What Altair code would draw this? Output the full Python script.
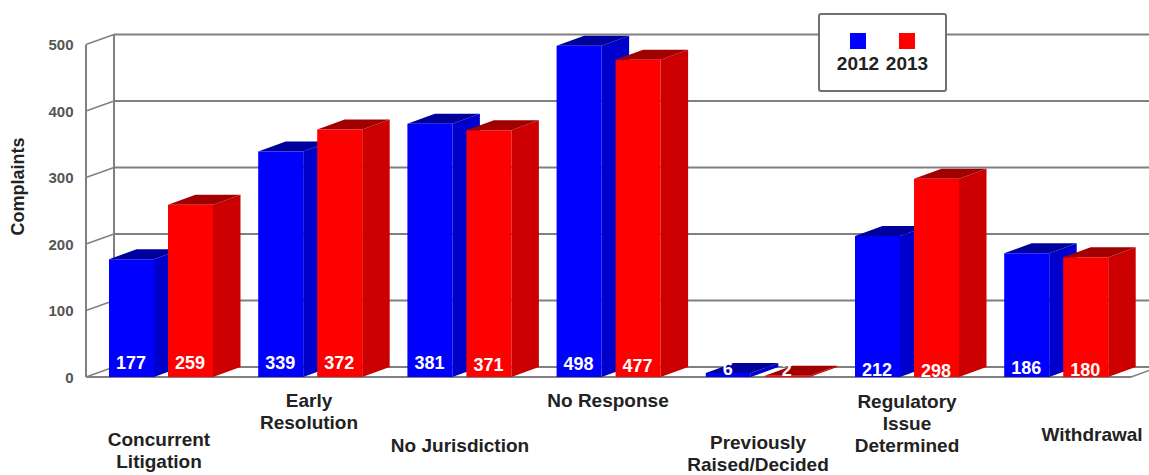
import altair as alt
import pandas as pd

# Complaint counts per closure reason
categories = ["Concurrent Litigation", "Early Resolution", "No Jurisdiction", "No Response",
              "Previously Raised/Decided", "Regulatory Issue Determined", "Withdrawal"]
values_2012 = [177, 339, 381, 498, 6, 212, 186]
values_2013 = [259, 372, 371, 477, 2, 298, 180]
y_ticks = [0, 100, 200, 300, 400, 500]

# Category label lines, kept apart from layout
label_lines = [["Concurrent", "Litigation"], ["Early", "Resolution"], ["No Jurisdiction"], ["No Response"],
               ["Previously", "Raised/Decided"], ["Regulatory", "Issue", "Determined"], ["Withdrawal"]]

# Layout, in pixels of the drawing
LEFT = 86
W, H = 1149, 475
SLOT = 149.2
BAR_W = 45
RED_SHIFT = 59
WALL_X = 28
DEPTH_X = 27.5
DEPTH_Y = 10
Y0 = 377
PX_PER_UNIT = 0.665
first_bar = 109 - LEFT
label_top = [440, 401, 446, 401, 443, 402, 435]
label_cx = [159, 309, 460, 608, 758, 907, 1092]
line_h = 22
value_label_y = {2012: [364, 364, 364, 365, 370, 371, 369], 2013: [364, 364, 366, 367, 371, 372, 371]}

# Conversions from pixels into scale units
bw = BAR_W / SLOT
dx = DEPTH_X / SLOT
wx = WALL_X / SLOT
dv = DEPTH_Y / PX_PER_UNIT
x_dom = [-first_bar / SLOT, (W - LEFT - first_bar) / SLOT]
y_dom = [(Y0 - H) / PX_PER_UNIT, Y0 / PX_PER_UNIT]
X_SCALE = alt.Scale(domain=x_dom, range=[0, W - LEFT], nice=False, zero=False)
Y_SCALE = alt.Scale(domain=y_dom, range=[H, 0], nice=False, zero=False)
Y_AXIS = alt.Axis(values=y_ticks, domain=False, ticks=False, grid=False, labelPadding=13,
                  labelFont="Liberation Sans", labelFontSize=15, labelFontWeight="bold",
                  labelColor="#555555", title="Complaints", titleFont="Liberation Sans",
                  titleFontSize=18, titleFontWeight="bold", titleColor="#222222",
                  titleX=-59, titleY=186, titleAngle=270)
xq = lambda f: alt.X(f, type="quantitative", scale=X_SCALE, axis=None)
yq = lambda f: alt.Y(f, type="quantitative", scale=Y_SCALE, axis=Y_AXIS)

front, side, top, labels = {}, {}, {}, {}
for year, vals, shift in [(2012, values_2012, 0), (2013, values_2013, RED_SHIFT / SLOT)]:
    f_rows, s_rows, t_rows, l_rows = [], [], [], []
    for i, v in enumerate(vals):
        x0 = i + shift
        x1 = x0 + bw
        f_rows.append({"x": x0, "x2": x1, "y": v, "y2": 0})
        s_rows += [{"b": i, "x": x1, "lo": 0, "hi": v},
                   {"b": i, "x": x1 + dx, "lo": dv, "hi": v + dv}]
        t_rows += [{"b": i, "x": x0, "lo": v, "hi": v},
                   {"b": i, "x": x0 + dx, "lo": v, "hi": v + dv},
                   {"b": i, "x": x1, "lo": v, "hi": v + dv},
                   {"b": i, "x": x1 + dx, "lo": v + dv, "hi": v + dv}]
        l_rows.append({"x": (x0 + x1) / 2 - 0.5 / SLOT, "py": value_label_y[year][i], "t": str(v)})
    front[year] = pd.DataFrame(f_rows)
    side[year] = pd.DataFrame(s_rows)
    top[year] = pd.DataFrame(t_rows)
    labels[year] = pd.DataFrame(l_rows)


def bar_layers(year, c_front, c_side, c_top):
    side_l = alt.Chart(side[year]).mark_area(color=c_side, orient="vertical", interpolate="linear").encode(
        x=xq("x"), y=yq("hi"), y2="lo", detail="b:N")
    top_l = alt.Chart(top[year]).mark_area(color=c_top, orient="vertical", interpolate="linear").encode(
        x=xq("x"), y=yq("hi"), y2="lo", detail="b:N")
    front_l = alt.Chart(front[year]).mark_rect(color=c_front).encode(
        x=xq("x"), x2="x2", y=yq("y"), y2="y2")
    return [side_l, top_l, front_l]


# Back wall grid lines, carrying the value axis
wall = pd.DataFrame({"v": y_ticks})
wall["back"] = wall["v"] + dv
wall["x0"] = x_dom[0]
wall["xb"] = x_dom[0] + wx
wall["xe"] = x_dom[1]
GRID = "#808080"
axis_layer = alt.Chart(wall).mark_rule(color=GRID, strokeWidth=2, opacity=0).encode(y=yq("v"))
grid = alt.Chart(wall).mark_rule(color=GRID, strokeWidth=2).encode(
    x=xq("xb"), x2="xe", y=yq("back"))
diag = alt.Chart(wall).mark_rule(color=GRID, strokeWidth=1.5).encode(
    x=xq("x0"), x2="xb", y=yq("v"), y2="back")
verticals = pd.DataFrame({"x": [x_dom[0], x_dom[0] + wx], "lo": [0, dv], "hi": [500, 500 + dv]})
vert = alt.Chart(verticals).mark_rule(color=GRID, strokeWidth=2).encode(
    x=xq("x"), y=yq("lo"), y2="hi")

# Front edge of the floor and its far right corner
floor_end = x_dom[0] + (1131 - LEFT) / SLOT
floor_front = alt.Chart(pd.DataFrame({"x": [x_dom[0]], "x2": [floor_end], "y": [0]})).mark_rule(
    color=GRID, strokeWidth=2).encode(x=xq("x"), x2="x2", y=yq("y"))
floor_side = alt.Chart(pd.DataFrame({"x": [floor_end], "x2": [floor_end + wx], "y": [0], "y2": [dv]})).mark_rule(
    color=GRID, strokeWidth=1.5).encode(x=xq("x"), x2="x2", y=yq("y"), y2="y2")

# Legend box, drawn in pixel positions
px = lambda f: alt.X(f, type="quantitative", scale=None, axis=None)
py = lambda f: alt.Y(f, type="quantitative", scale=None, axis=None)
box = alt.Chart(pd.DataFrame({"x": [819 - LEFT], "x2": [946 - LEFT], "y": [14], "y2": [91]})).mark_rect(
    fill="white", stroke="#707070", strokeWidth=2, cornerRadius=2).encode(x=px("x"), x2="x2", y=py("y"), y2="y2")
swatch = alt.Chart(pd.DataFrame({"x": [850 - LEFT, 899 - LEFT], "y": [33, 33], "c": ["#0000ff", "#ff0000"]})).transform_calculate(
    x2="datum.x + 16", y2="datum.y + 16").mark_rect().encode(
    x=px("x"), x2="x2:Q", y=py("y"), y2="y2:Q", color=alt.Color("c:N", scale=None))
legend_text = alt.Chart(pd.DataFrame({"x": [858 - LEFT, 907 - LEFT], "y": [64, 64], "t": ["2012", "2013"]})).mark_text(
    font="Liberation Sans", fontSize=19, fontWeight="bold", color="#222222", baseline="middle").encode(
    x=px("x"), y=py("y"), text="t:N")

# Staggered category labels below the floor
rows = []
for i, lines in enumerate(label_lines):
    for j, line in enumerate(lines):
        rows.append({"x": label_cx[i] - LEFT, "y": label_top[i] + j * line_h, "t": line})
cat_text = alt.Chart(pd.DataFrame(rows)).mark_text(
    font="Liberation Sans", fontSize=19, fontWeight="bold", color="#222222", baseline="middle").encode(
    x=px("x"), y=py("y"), text="t:N")

value_layers = [
    alt.Chart(labels[y]).mark_text(font="Liberation Sans", fontSize=18, fontWeight="bold",
                                   color="white", baseline="middle").encode(
        x=xq("x"), y=py("py"), text="t:N")
    for y in (2012, 2013)
]

chart = alt.layer(
    axis_layer, grid, diag, vert, floor_front, floor_side,
    box, swatch, legend_text,
    *bar_layers(2012, "#0000ff", "#0000cc", "#00009c"),
    *bar_layers(2013, "#ff0000", "#cc0000", "#a00000"),
    *value_layers, cat_text,
).properties(
    width=W - LEFT, height=H,
    padding={"left": LEFT, "top": 0, "right": 0, "bottom": 0},
    autosize=alt.AutoSizeParams(type="none"),
    background="white",
).configure_view(stroke=None)

chart.save("out.html", embed_options={"renderer": "svg", "actions": False})
